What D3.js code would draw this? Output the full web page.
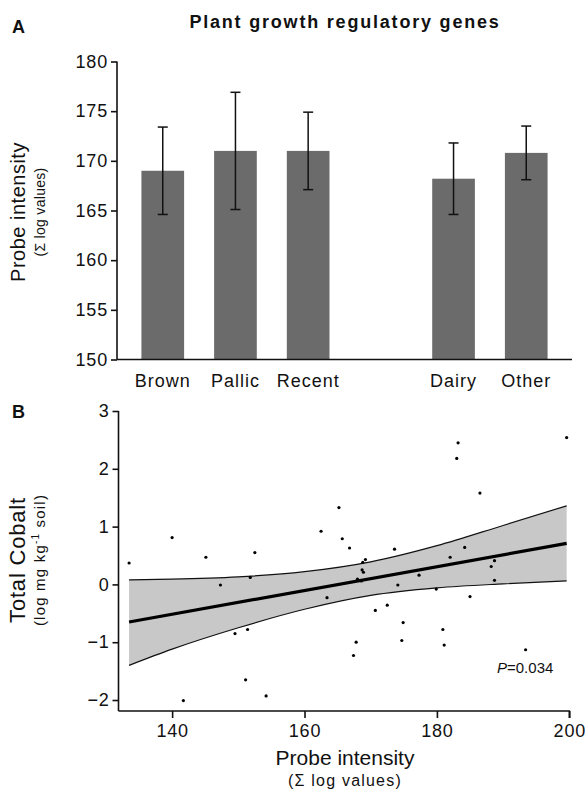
<!DOCTYPE html>
<html lang="en">
<head>
<meta charset="UTF-8">
<title>Plant growth regulatory genes</title>
<script src="https://d3js.org/d3.v7.min.js"></script>
<style>
  body { margin: 0; background: #fff; }
  svg text { font-family: "Liberation Sans", Arial, sans-serif; fill: #111; }
  .axis path, .axis line { stroke: #111; stroke-width: 1.6px; }
  .axis text { font-size: 18px; letter-spacing: 0.8px; }
</style>
</head>
<body>
<svg id="chart" width="585" height="791"></svg>
<script>
// panel A: bar values (mean, error)
const categories = ["Brown", "Pallic", "Recent", "Dairy", "Other"];
const slots = ["Brown", "Pallic", "Recent", "", "Dairy", "Other"];
const means = [169.0, 171.0, 171.0, 168.2, 170.8];
const errors = [4.4, 5.9, 3.9, 3.6, 2.7];
const yTicksA = [150, 155, 160, 165, 170, 175, 180];

// panel B: scatter points
const probeX = [133.5, 140.0, 145.1, 152.5, 162.5, 165.2, 165.7, 166.8, 183.2, 183.0,
                186.5, 199.6, 173.6, 169.2, 168.8, 184.2, 182.0, 188.7, 151.8, 147.3,
                163.4, 149.5, 151.4, 151.1, 154.2, 141.7, 168.7, 168.9, 168.0, 168.6,
                188.2, 188.7, 177.3, 174.1, 179.9, 185.0, 170.7, 172.5, 174.9, 180.9,
                167.8, 174.7, 181.1, 167.4, 193.4];
const cobaltY = [0.37, 0.81, 0.47, 0.55, 0.92, 1.33, 0.79, 0.63, 2.45, 2.18,
                 1.58, 2.54, 0.61, 0.43, 0.38, 0.64, 0.47, 0.41, 0.12, -0.01,
                 -0.23, -0.85, -0.78, -1.65, -1.93, -2.01, 0.25, 0.21, 0.09, 0.06,
                 0.31, 0.07, 0.16, -0.01, -0.08, -0.21, -0.45, -0.36, -0.66, -0.78,
                 -1.00, -0.97, -1.05, -1.23, -1.13];
// fitted line and confidence band
const fitX = [133.5, 199.6];
const fitY = [-0.65, 0.71];
const bandX = [133.5, 140, 150, 160, 170, 180, 190, 199.6];
const bandUpper = [0.08, 0.09, 0.13, 0.22, 0.39, 0.67, 1.02, 1.36];
const bandLower = [-1.40, -1.12, -0.75, -0.43, -0.19, -0.06, 0.01, 0.06];
const xTicksB = [140, 160, 180, 200];
const yTicksB = [-2, -1, 0, 1, 2, 3];

const svg = d3.select("#chart");

// ---------- panel A ----------
const xA = d3.scaleBand().domain(slots).range([117, 572]).paddingInner(0.413).paddingOuter(0.336);
const yA = d3.scaleLinear().domain([150, 180]).range([359.5, 61.5]);

svg.append("text").attr("x", 12).attr("y", 33).attr("font-size", 18).attr("font-weight", "bold").text("A");
svg.append("text").attr("x", 345).attr("y", 28).attr("text-anchor", "middle")
  .attr("font-size", 18).attr("font-weight", "bold").attr("letter-spacing", 1.8)
  .text("Plant growth regulatory genes");

svg.selectAll("rect.bar").data(categories).enter().append("rect")
  .attr("class", "bar")
  .attr("x", d => xA(d))
  .attr("width", xA.bandwidth())
  .attr("y", (d, i) => yA(means[i]))
  .attr("height", (d, i) => yA(150) - yA(means[i]))
  .attr("fill", "#6b6b6b");

const eb = svg.append("g").attr("stroke", "#111").attr("stroke-width", 1.5);
categories.forEach((c, i) => {
  const cx = xA(c) + xA.bandwidth() / 2;
  const top = yA(means[i] + errors[i]), bot = yA(means[i] - errors[i]);
  eb.append("line").attr("x1", cx).attr("x2", cx).attr("y1", top).attr("y2", bot);
  eb.append("line").attr("x1", cx - 5).attr("x2", cx + 5).attr("y1", top).attr("y2", top);
  eb.append("line").attr("x1", cx - 5).attr("x2", cx + 5).attr("y1", bot).attr("y2", bot);
});

svg.append("g").attr("class", "axis").attr("transform", "translate(117,0)")
  .call(d3.axisLeft(yA).tickValues(yTicksA).tickSize(6).tickPadding(3))
  .call(g => g.selectAll("path").attr("d", `M-0,${yA(180)}V${yA(150)}`));

svg.append("g").attr("class", "axis").attr("transform", `translate(0,${yA(150)})`)
  .call(d3.axisBottom(xA).tickValues(categories).tickSize(0).tickPadding(15))
  .call(g => g.selectAll("text").attr("font-size", 20).style("letter-spacing", "1px"))
  .call(g => g.select("path").attr("d", "M117,0H572"));

svg.append("text").attr("transform", "translate(25,212) rotate(-90)")
  .attr("text-anchor", "middle").attr("font-size", 20).attr("letter-spacing", 0.5).text("Probe intensity");
svg.append("text").attr("transform", "translate(45,212) rotate(-90)")
  .attr("text-anchor", "middle").attr("font-size", 14).attr("letter-spacing", 0.3).text("(Σ log values)");

// ---------- panel B ----------
const xB = d3.scaleLinear().domain([131.9, 200]).range([118.5, 569.3]);
const yB = d3.scaleLinear().domain([-2.19, 3]).range([711, 411]);

svg.append("text").attr("x", 12).attr("y", 418).attr("font-size", 18).attr("font-weight", "bold").text("B");

const band = bandX.map((x, i) => ({ x, u: bandUpper[i], l: bandLower[i] }));
svg.append("path").datum(band)
  .attr("fill", "#c8c8c8")
  .attr("d", d3.area().curve(d3.curveMonotoneX).x(d => xB(d.x)).y0(d => yB(d.l)).y1(d => yB(d.u)));
[bandUpper, bandLower].forEach(arr => {
  svg.append("path").datum(band)
    .attr("fill", "none").attr("stroke", "#111").attr("stroke-width", 1.2)
    .attr("d", d3.line().curve(d3.curveMonotoneX).x(d => xB(d.x)).y((d, i) => yB(arr[i])));
});
svg.append("path").datum(fitX.map((x, i) => [x, fitY[i]]))
  .attr("fill", "none").attr("stroke", "#000").attr("stroke-width", 3.2)
  .attr("d", d3.line().x(d => xB(d[0])).y(d => yB(d[1])));

svg.selectAll("circle.pt").data(probeX).enter().append("circle")
  .attr("class", "pt")
  .attr("cx", d => xB(d))
  .attr("cy", (d, i) => yB(cobaltY[i]))
  .attr("r", 1.6)
  .attr("fill", "#000");

svg.append("g").attr("class", "axis").attr("transform", "translate(118.5,0)")
  .call(d3.axisLeft(yB).tickValues(yTicksB).tickSize(6).tickPadding(3).tickFormat(d3.format("d")))
  .call(g => g.select("path").attr("d", `M0,${yB(3)}V711`));

svg.append("g").attr("class", "axis").attr("transform", "translate(0,711)")
  .call(d3.axisBottom(xB).tickValues(xTicksB).tickSize(7).tickPadding(6))
  .call(g => g.select("path").attr("d", "M118.5,0H569.3V7"));

svg.append("text").attr("transform", "translate(25,560) rotate(-90)")
  .attr("text-anchor", "middle").attr("font-size", 22).attr("letter-spacing", 0.8).text("Total Cobalt");
const sub = svg.append("text").attr("transform", "translate(45,560) rotate(-90)")
  .attr("text-anchor", "middle").attr("font-size", 15).attr("letter-spacing", 1.2);
sub.append("tspan").text("(log mg kg");
sub.append("tspan").attr("font-size", 10).attr("dy", -6).text("-1");
sub.append("tspan").attr("dy", 6).text(" soil)");

svg.append("text").attr("x", 345).attr("y", 765).attr("text-anchor", "middle")
  .attr("font-size", 21).text("Probe intensity");
svg.append("text").attr("x", 345).attr("y", 786).attr("text-anchor", "middle")
  .attr("font-size", 16).attr("letter-spacing", 1.2).text("(Σ log values)");

const ptxt = svg.append("text").attr("x", 497).attr("y", 673).attr("font-size", 15);
ptxt.append("tspan").attr("font-style", "italic").text("P");
ptxt.append("tspan").text("=0.034");
</script>
</body>
</html>
